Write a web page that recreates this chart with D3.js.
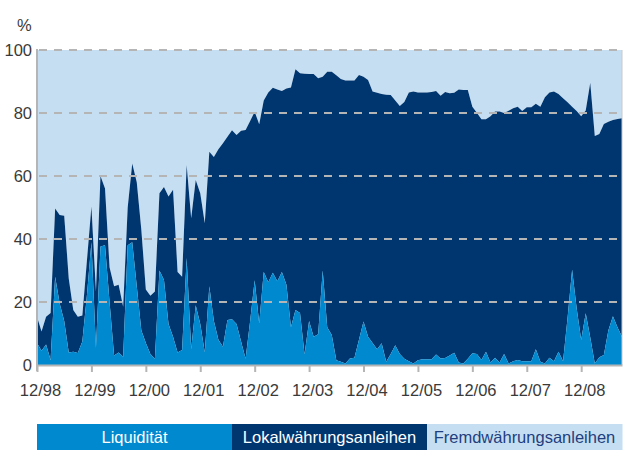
<!DOCTYPE html>
<html>
<head>
<meta charset="utf-8">
<script src="https://cdn.jsdelivr.net/npm/d3@7"></script>
<style>
	body { margin: 0; background: #fff; }
	text { font-family: "Liberation Sans", Arial, sans-serif; }
</style>
</head>
<body>
<div id="chart"></div>
<script>
//Anteile in % pro Monat, von 12/98 bis 09/09
var liquiditaet = [7, 4.5, 6.5, 1.6, 28, 19.5, 14, 4, 4.2, 3.8, 7.5, 22, 39, 5.5, 37.6, 38, 20, 3, 4, 2.6,
	38, 39, 25, 11, 7, 3.5, 2, 30, 27, 13, 9, 4, 4.8, 34, 5, 19, 13, 4, 25, 14,
	8, 5.8, 14.3, 14.5, 13, 7.5, 2, 14, 26.9, 13.2, 29.5, 26.3, 29.3, 26.6, 29.5, 25.5, 12, 17.5, 16.5, 3.3,
	14, 9, 9.8, 30, 12, 9.5, 1.5, 1, 0.5, 2.1, 2.3, 8, 13.8, 9, 7, 5, 6.9, 1, 3.5, 6.3,
	3.5, 2, 1.2, 0.5, 1.5, 1.8, 1.8, 1.8, 3.3, 2.1, 2.2, 3, 3.9, 0.8, 0.5, 2, 3.7, 3.5, 1.6, 4.2,
	0.8, 2.3, 0.8, 3.5, 0.5, 1.2, 1.6, 1.2, 1.2, 1.2, 5, 1, 0.5, 2.3, 1.2, 4.2, 1.2, 15, 30.2, 18,
	7.9, 16.4, 8.7, 0.5, 2.5, 3.2, 11, 15.5, 12, 9];

var lokalwaehrung = [8.3, 6.1, 8.8, 14.9, 21.7, 28.1, 33.4, 23.5, 13.3, 11.5, 8.2, 11, 11.3, 17.8, 22.4, 18, 11, 22, 21.5, 15.9,
	12, 25, 33, 32, 17, 18.5, 21.3, 24.5, 29.5, 40.5, 46.6, 25.5, 23.2, 29.5, 41.6, 39.7, 41.5, 41, 42.7, 52,
	60.5, 64.6, 58.2, 60, 60, 66.9, 72.6, 63.5, 53.5, 63.2, 54.5, 60.2, 58.7, 60.9, 57.5, 62.3, 76.1, 76.4, 76.1, 89.2,
	78.4, 83.4, 81.2, 61.5, 81.1, 83.6, 90.5, 89.8, 89.8, 88.2, 88, 84.1, 77.7, 81.5, 79.8, 81.4, 79.1, 84.8, 82.2, 77.7,
	78.7, 81.5, 85.3, 86.3, 85, 84.7, 84.7, 84.9, 83.7, 83.4, 84.5, 83.3, 82.5, 86.7, 86.8, 85.3, 78.3, 76.6, 76.4, 73.8,
	78.2, 78.2, 79.7, 76.5, 80.2, 80.3, 80.4, 79.4, 80.6, 80.6, 77.9, 81, 84.5, 84.2, 85.6, 81.8, 83.5, 68.4, 51.8, 62.6,
	71.1, 64.4, 80.9, 72.2, 70.8, 73.3, 66.2, 62.3, 66.1, 69.3];

var fremdwaehrung = [84.7, 89.4, 84.7, 83.5, 50.3, 52.4, 52.6, 72.5, 82.5, 84.7, 84.3, 67, 49.7, 76.7, 40, 44, 69, 75, 74.5, 81.5,
	50, 36, 42, 57, 76, 78, 76.7, 45.5, 43.5, 46.5, 44.4, 70.5, 72, 36.5, 53.4, 41.3, 45.5, 55, 32.3, 34,
	31.5, 29.6, 27.5, 25.5, 27, 25.6, 25.4, 22.5, 19.6, 23.6, 16, 13.5, 12, 12.5, 13, 12.2, 11.9, 6.1, 7.4, 7.5,
	7.6, 7.6, 9, 8.5, 6.9, 6.9, 8, 9.2, 9.7, 9.7, 9.7, 7.9, 8.5, 9.5, 13.2, 13.6, 14, 14.2, 14.3, 16,
	17.8, 16.5, 13.5, 13.2, 13.5, 13.5, 13.5, 13.3, 13, 14.5, 13.3, 13.7, 13.6, 12.5, 12.7, 12.7, 18, 19.9, 22, 22,
	21, 19.5, 19.5, 20, 19.3, 18.5, 18, 19.4, 18.2, 18.2, 17.1, 18, 15, 13.5, 13.2, 14, 15.3, 16.6, 18, 19.4,
	21, 19.2, 10.4, 27.3, 26.7, 23.5, 22.8, 22.2, 21.9, 21.7];

//Achsenbeschriftungen
var tickMonate = [0, 12, 24, 36, 48, 60, 72, 84, 96, 108, 120];
var tickLabels = ["12/98", "12/99", "12/00", "12/01", "12/02", "12/03", "12/04", "12/05", "12/06", "12/07", "12/08"];
var yTicks = [0, 20, 40, 60, 80, 100];

var serienNamen = ["Liquidität", "Lokalwährungsanleihen", "Fremdwährungsanleihen"];
var farben = ["#0089cf", "#003670", "#c6def1"];
var textFarben = ["#ffffff", "#ffffff", "#1e3f80"];

//Ränder (nicht "top" nennen, das ist window.top)
var chartWidth = 628, chartHeight = 450;
var plotLeft = 37, plotRight = 622, plotTop = 50, plotBottom = 365;

var svg = d3.select("#chart")
	.append("svg")
	.attr("width", chartWidth)
	.attr("height", chartHeight);

//Tabelle fuer d3.stack bauen
var tabelle = liquiditaet.map(function(d, i) {
	return { monat: i, liq: d, lokal: lokalwaehrung[i], fremd: fremdwaehrung[i] };
});

var x = d3.scaleLinear()
	.domain([0, liquiditaet.length - 1])
	.range([plotLeft, plotRight]);

var y = d3.scaleLinear()
	.domain([0, 100])
	.range([plotBottom, plotTop]);

var stack = d3.stack().keys(["liq", "lokal", "fremd"]);
var serien = stack(tabelle);

var area = d3.area()
	.x(function(d) { return x(d.data.monat); })
	.y0(function(d) { return y(d[0]); })
	.y1(function(d) { return y(Math.min(d[1], 100)); });

//Flaechen von oben nach unten zeichnen
svg.append("g")
	.selectAll("path")
	.data(serien.slice().reverse())
	.enter()
	.append("path")
	.attr("fill", function(d) { return farben[d.index]; })
	.attr("d", area);

//Gitterlinien gestrichelt
svg.append("g")
	.selectAll("line")
	.data(yTicks.slice(1))
	.enter()
	.append("line")
	.attr("x1", plotLeft + 2)
	.attr("x2", plotRight)
	.attr("y1", function(d) { return y(d); })
	.attr("y2", function(d) { return y(d); })
	.attr("stroke", "#b5b5b5")
	.attr("stroke-width", 2)
	.attr("stroke-dasharray", "8,7");

//Y-Achse
var yAxis = svg.append("g")
	.attr("transform", "translate(" + plotLeft + ",0)")
	.call(d3.axisLeft(y).tickValues(yTicks).tickSize(0).tickPadding(5));

yAxis.select(".domain").remove();
yAxis.selectAll("text")
	.style("font-size", "16.5px")
	.style("fill", "#3a3a3a");

svg.append("line")
	.attr("x1", plotLeft)
	.attr("x2", plotLeft)
	.attr("y1", plotTop - 1)
	.attr("y2", plotBottom + 6)
	.attr("stroke", "#b5b5b5")
	.attr("stroke-width", 2);

svg.append("line")
	.attr("x1", plotRight)
	.attr("x2", plotRight)
	.attr("y1", plotTop)
	.attr("y2", plotBottom)
	.attr("stroke", "#c8c8c8")
	.attr("stroke-width", 1);

svg.append("text")
	.attr("x", 17)
	.attr("y", 31)
	.style("font-size", "16.5px")
	.style("fill", "#3a3a3a")
	.text("%");

//X-Achse
var xAxis = svg.append("g")
	.attr("transform", "translate(0," + plotBottom + ")")
	.call(d3.axisBottom(x)
		.tickValues(tickMonate)
		.tickFormat(function(d, i) { return tickLabels[i]; })
		.tickSize(7)
		.tickSizeOuter(0)
		.tickPadding(12));

xAxis.select(".domain")
	.attr("stroke", "#b5b5b5")
	.attr("stroke-width", 2);
xAxis.selectAll(".tick line")
	.attr("stroke", "#b5b5b5")
	.attr("stroke-width", 2);
xAxis.selectAll(".tick text")
	.attr("dx", 3)
	.style("font-size", "16.5px")
	.style("fill", "#3a3a3a");

//Legende als drei Balken
var legBreite = (plotRight - plotLeft) / 3;
var legende = svg.append("g")
	.selectAll("g")
	.data(serienNamen)
	.enter()
	.append("g");

legende.append("rect")
	.attr("x", function(d, i) { return plotLeft + i * legBreite; })
	.attr("y", 424)
	.attr("width", legBreite + 0.5)
	.attr("height", 26)
	.attr("fill", function(d, i) { return farben[i]; });

legende.append("text")
	.attr("x", function(d, i) { return plotLeft + i * legBreite + legBreite / 2; })
	.attr("y", 443)
	.style("text-anchor", "middle")
	.style("font-size", "16.5px")
	.style("fill", function(d, i) { return textFarben[i]; })
	.text(function(d) { return d; });
</script>
</body>
</html>
